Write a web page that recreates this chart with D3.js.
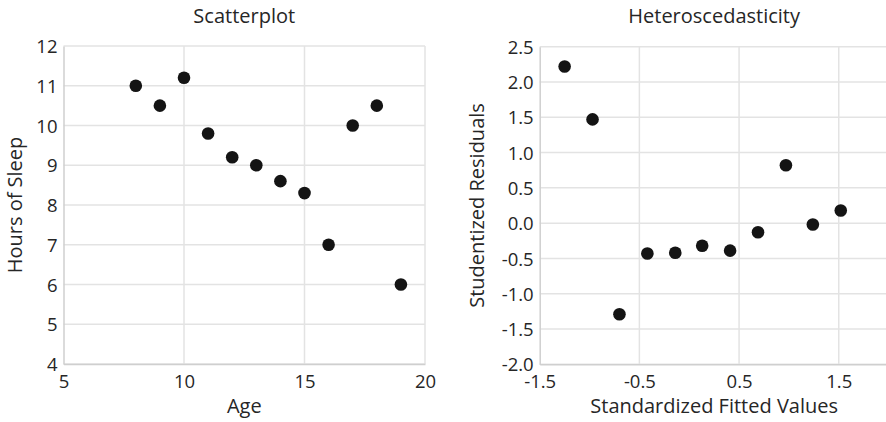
<!DOCTYPE html>
<html>
<head>
<meta charset="utf-8">
<script src="https://cdn.jsdelivr.net/npm/d3@7"></script>
<style>
  html, body { margin: 0; padding: 0; background: #fff; }
  svg { display: block; }
  text { font-family: "Open Sans", "Noto Sans", sans-serif; fill: #262626; }
</style>
</head>
<body>
<svg id="chart" width="886" height="422"></svg>
<script>
// Left panel: age vs. hours of sleep
const ages = [8, 9, 10, 11, 12, 13, 14, 15, 16, 17, 18, 19];
const sleepHours = [11, 10.5, 11.2, 9.8, 9.2, 9, 8.6, 8.3, 7, 10, 10.5, 6];
const ageTicks = [5, 10, 15, 20];
const sleepTicks = [4, 5, 6, 7, 8, 9, 10, 11, 12];

// Right panel: residual diagnostics
const fittedValues = [-1.25, -0.97, -0.70, -0.42, -0.14, 0.13, 0.41, 0.69, 0.97, 1.24, 1.52];
const residuals = [2.22, 1.47, -1.29, -0.43, -0.42, -0.32, -0.39, -0.13, 0.82, -0.02, 0.18];
const fittedTicks = [-1.5, -0.5, 0.5, 1.5];
const residualTicks = [-2.0, -1.5, -1.0, -0.5, 0.0, 0.5, 1.0, 1.5, 2.0, 2.5];

const TITLE_FONT = 20;
const TICK_FONT = 18.5;
const svg = d3.select("#chart");

// plain hyphen for negatives
const oneDecimal = d => d3.format(".1f")(d).replace("\u2212", "-");

function panel(cfg) {
  const g = svg.append("g");
  const x = d3.scaleLinear().domain(cfg.xDomain).range(cfg.xRange);
  const y = d3.scaleLinear().domain(cfg.yDomain).range(cfg.yRange);
  const [x0, x1] = cfg.xRange;
  const [y0, y1] = cfg.yRange;

  // horizontal gridlines
  g.append("g").selectAll("line").data(cfg.yTicks).join("line")
    .attr("x1", x0).attr("x2", x1)
    .attr("y1", d => y(d)).attr("y2", d => y(d))
    .attr("stroke", "#e3e3e3").attr("stroke-width", 1.5);

  // vertical gridlines
  g.append("g").selectAll("line").data(cfg.xTicks.filter(d => d !== cfg.xDomain[0])).join("line")
    .attr("x1", d => x(d)).attr("x2", d => x(d))
    .attr("y1", y0).attr("y2", y1)
    .attr("stroke", "#e3e3e3").attr("stroke-width", 1.5);

  // axes
  const xAxis = d3.axisBottom(x).tickValues(cfg.xTicks).tickSize(0).tickFormat(cfg.xFormat);
  const yAxis = d3.axisLeft(y).tickValues(cfg.yTicks).tickSize(0).tickPadding(6).tickFormat(cfg.yFormat);

  const gx = g.append("g").attr("transform", `translate(0,${y0})`).call(xAxis);
  const gy = g.append("g").attr("transform", `translate(${x0},0)`).call(yAxis);
  [gx, gy].forEach(a => {
    a.attr("font-size", TICK_FONT).attr("font-family", null);
    a.select(".domain").attr("stroke", "#cfcfcf").attr("stroke-width", 1.5);
    a.selectAll("text").attr("fill", "#262626");
  });
  gx.selectAll("text").attr("dy", null).attr("y", 24);
  gy.selectAll("text").attr("dy", "0.36em");

  // points
  g.append("g").selectAll("circle").data(cfg.xs).join("circle")
    .attr("cx", d => x(d))
    .attr("cy", (d, i) => y(cfg.ys[i]))
    .attr("r", 6.3)
    .attr("fill", "#141414");

  // titles
  g.append("text").attr("x", (x0 + x1) / 2).attr("y", 23)
    .attr("text-anchor", "middle").attr("font-size", TITLE_FONT).text(cfg.title);
  g.append("text").attr("x", (x0 + x1) / 2).attr("y", 413)
    .attr("text-anchor", "middle").attr("font-size", TITLE_FONT).text(cfg.xLabel);
  g.append("text")
    .attr("transform", `translate(${cfg.yLabelX},${(y0 + y1) / 2}) rotate(-90)`)
    .attr("text-anchor", "middle").attr("font-size", TITLE_FONT).text(cfg.yLabel);
}

panel({
  xs: ages, ys: sleepHours,
  xDomain: [5, 20], xRange: [63.5, 425],
  yDomain: [4, 12], yRange: [364, 46],
  xTicks: ageTicks, yTicks: sleepTicks,
  xFormat: d3.format("d"), yFormat: d3.format("d"),
  title: "Scatterplot", xLabel: "Age", yLabel: "Hours of Sleep",
  yLabelX: 22
});

panel({
  xs: fittedValues, ys: residuals,
  xDomain: [-1.5, 2.0], xRange: [539.7, 888.6],
  yDomain: [-2.0, 2.5], yRange: [364.3, 46.7],
  xTicks: fittedTicks, yTicks: residualTicks,
  xFormat: oneDecimal, yFormat: oneDecimal,
  title: "Heteroscedasticity", xLabel: "Standardized Fitted Values", yLabel: "Studentized Residuals",
  yLabelX: 484
});
</script>
</body>
</html>
